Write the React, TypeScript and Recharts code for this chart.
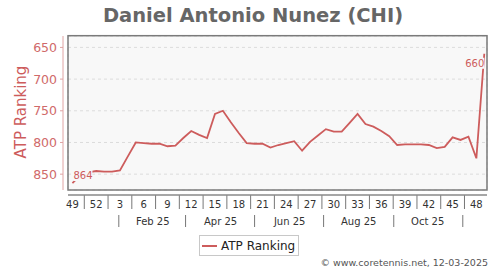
import React from 'react';
import { LineChart, Line, XAxis, YAxis, CartesianGrid } from 'recharts';

const FONT = '"DejaVu Sans", Verdana, sans-serif';

const title = 'Daniel Antonio Nunez (CHI)';
const seriesName = 'ATP Ranking';
const footer = '\u00A9 www.coretennis.net, 12-03-2025';

const dates = [
  '2024-12-06', '2024-12-13', '2024-12-20', '2024-12-27',
  '2025-01-03', '2025-01-10', '2025-01-17', '2025-01-24', '2025-01-31',
  '2025-02-07', '2025-02-14', '2025-02-21', '2025-02-28',
  '2025-03-07', '2025-03-14', '2025-03-21', '2025-03-28',
  '2025-04-04', '2025-04-11', '2025-04-18', '2025-04-25',
  '2025-05-02', '2025-05-09', '2025-05-16', '2025-05-23', '2025-05-30',
  '2025-06-06', '2025-06-13', '2025-06-20', '2025-06-27',
  '2025-07-04', '2025-07-11', '2025-07-18', '2025-07-25',
  '2025-08-01', '2025-08-08', '2025-08-15', '2025-08-22', '2025-08-29',
  '2025-09-05', '2025-09-12', '2025-09-19', '2025-09-26',
  '2025-10-03', '2025-10-10', '2025-10-17', '2025-10-24', '2025-10-31',
  '2025-11-07', '2025-11-14', '2025-11-21', '2025-11-28',
  '2025-12-05',
];

const rankings = [
  864, 852, 847, 845,
  846, 846, 844, 822, 800,
  801, 802, 802, 806,
  805, 793, 782, 788,
  793, 755, 750, 768,
  785, 801, 802, 802, 808,
  804, 801, 798, 813,
  799, 789, 779, 783,
  783, 769, 755, 771, 775,
  782, 790, 804, 803,
  803, 803, 804, 809, 807,
  792, 796, 791, 825,
  660,
];

const yTicks = [650, 700, 750, 800, 850];
const yDomain = [632, 875];

const weekLabels = ['49', '52', '3', '6', '9', '12', '15', '18', '21', '24', '27', '30', '33', '36', '39', '42', '45', '48'];
const weekLabelDates = [
  '2024-12-06', '2024-12-27', '2025-01-17', '2025-02-07', '2025-02-28', '2025-03-21',
  '2025-04-11', '2025-05-02', '2025-05-23', '2025-06-13', '2025-07-04', '2025-07-25',
  '2025-08-15', '2025-09-05', '2025-09-26', '2025-10-17', '2025-11-07', '2025-11-28',
];

const monthGridDates = [
  '2025-01-01', '2025-02-01', '2025-03-01', '2025-04-01', '2025-05-01', '2025-06-01',
  '2025-07-01', '2025-08-01', '2025-09-01', '2025-10-01', '2025-11-01', '2025-12-01',
];
const monthLabels = ['Feb 25', 'Apr 25', 'Jun 25', 'Aug 25', 'Oct 25'];
const monthLabelDates = ['2025-02-15', '2025-04-16', '2025-06-16', '2025-08-16', '2025-10-16'];
const monthSepDates = ['2025-01-16', '2025-03-16', '2025-05-16', '2025-07-16', '2025-09-16', '2025-11-16'];

const xDomainDates = ['2024-12-02T02:24:00Z', '2025-12-07T09:36:00Z'];

const toMs = (s: string) => Date.parse(s.length === 10 ? s + 'T00:00:00Z' : s);

const data = dates.map((d, i) => ({ t: toMs(d), rank: rankings[i] }));
const xDomain = xDomainDates.map(toMs);
const monthGridTs = monthGridDates.map(toMs);
const weekLabelTs = weekLabelDates.map(toMs);
const weekSepTs = weekLabelTs.slice(1).map((v, i) => (v + weekLabelTs[i]) / 2);
const monthLabelTs = monthLabelDates.map(toMs);
const monthSepTs = monthSepDates.map(toMs);

// layout (style only)
const W = 500;
const H = 270;
const PL = 68;
const PR = 487;
const PT = 36;
const PB = 190;

const LINE_COLOR = '#cd5c5c';
const AXIS_RED = '#d06a6a';

const YTick = (p: any) => (
  <g>
    <line x1={PL - 8} x2={PL - 5} y1={p.y} y2={p.y} stroke="#e0a4a4" strokeWidth={1} />
    <text x={PL - 11} y={p.y} textAnchor="end" dominantBaseline="central" fontSize={12.5} fill={AXIS_RED} fontFamily={FONT}>
      {p.payload.value}
    </text>
  </g>
);

const WeekTick = (p: any) => {
  const v = p.payload.value;
  const idx = weekLabelTs.indexOf(v);
  if (idx >= 0) {
    return (
      <text x={p.x} y={204} textAnchor="middle" dominantBaseline="central" fontSize={10} fill="#333" fontFamily={FONT}>
        {weekLabels[idx]}
      </text>
    );
  }
  return <line x1={p.x} x2={p.x} y1={195} y2={209} stroke="#777" strokeWidth={1} />;
};

const MonthTick = (p: any) => {
  const v = p.payload.value;
  const idx = monthLabelTs.indexOf(v);
  if (idx >= 0) {
    return (
      <text x={p.x} y={221} textAnchor="middle" dominantBaseline="central" fontSize={10} fill="#333" fontFamily={FONT}>
        {monthLabels[idx]}
      </text>
    );
  }
  return <line x1={p.x} x2={p.x} y1={215} y2={227} stroke="#777" strokeWidth={1} />;
};

const renderPointLabel = (p: any) => {
  const { x, y, value, index } = p;
  const last = rankings.length - 1;
  let i = index;
  if (i === undefined || i === null) {
    i = value === rankings[0] ? 0 : value === rankings[last] ? last : -1;
  }
  if (i === 0) {
    return (
      <g key="lbl-first">
        <rect x={x + 1} y={y - 13} width={19} height={11} fill="#f8f8f8" />
        <text x={x + 1} y={y - 4} textAnchor="start" fontSize={10} fill={LINE_COLOR} fontFamily={FONT}>
          {value}
        </text>
      </g>
    );
  }
  if (i === last) {
    return (
      <g key="lbl-last">
        <rect x={x - 19} y={y + 4} width={19} height={11} fill="#f8f8f8" />
        <text x={x} y={y + 13} textAnchor="end" fontSize={10} fill={LINE_COLOR} fontFamily={FONT}>
          {value}
        </text>
      </g>
    );
  }
  return <g />;
};

export default function App() {
  return (
    <div style={{ position: 'absolute', left: 0, top: 0, width: W, height: H, background: '#fff', fontFamily: FONT }}>
      <div style={{ position: 'absolute', left: 0, top: 0 }}>
        <LineChart width={W} height={H} data={data} margin={{ top: PT, right: W - PR, bottom: 40, left: 8 }}>
          <CartesianGrid stroke="#dcdcdc" strokeDasharray="3 3" fill="#f8f8f8" />
          <XAxis
            dataKey="t"
            type="number"
            domain={xDomain}
            allowDataOverflow
            ticks={monthGridTs}
            tick={false}
            axisLine={false}
            tickLine={false}
            height={5}
          />
          <XAxis
            xAxisId="weeks"
            dataKey="t"
            type="number"
            domain={xDomain}
            allowDataOverflow
            ticks={[...weekLabelTs, ...weekSepTs]}
            interval={0}
            tick={WeekTick}
            axisLine={false}
            tickLine={false}
            height={17}
          />
          <XAxis
            xAxisId="months"
            dataKey="t"
            type="number"
            domain={xDomain}
            allowDataOverflow
            ticks={[...monthLabelTs, ...monthSepTs]}
            interval={0}
            tick={MonthTick}
            axisLine={false}
            tickLine={false}
            height={18}
          />
          <YAxis
            reversed
            domain={yDomain}
            allowDataOverflow
            ticks={yTicks}
            interval={0}
            width={60}
            axisLine={false}
            tickLine={false}
            tick={YTick}
          />
          <Line
            type="linear"
            dataKey="rank"
            name={seriesName}
            stroke={LINE_COLOR}
            strokeWidth={1.8}
            dot={false}
            isAnimationActive={false}
            label={renderPointLabel}
          />
        </LineChart>
      </div>
      <svg width={W} height={H} style={{ position: 'absolute', left: 0, top: 0, pointerEvents: 'none' }}>
        <text x={253} y={15} textAnchor="middle" dominantBaseline="central" fontSize={19.5} fontWeight="bold" fill="#666" fontFamily={FONT}>
          {title}
        </text>
        <text transform="translate(21,112) rotate(-90)" textAnchor="middle" dominantBaseline="central" fontSize={15} fill={LINE_COLOR} fontFamily={FONT}>
          {seriesName}
        </text>
        <line x1={PL - 5} x2={PL - 5} y1={PT} y2={PB} stroke="#e0a4a4" strokeWidth={1} />
        <line x1={PL} x2={PR} y1={195} y2={195} stroke="#888" strokeWidth={1.3} />
        <rect x={PL} y={PT - 0.3} width={PR - PL} height={PB - PT + 0.3} fill="none" stroke="#7a7a7a" strokeWidth={1.5} />
        <text x={488} y={266} textAnchor="end" fontSize={9.5} fill="#555" fontFamily={FONT}>
          {footer}
        </text>
      </svg>
      <div
        style={{
          position: 'absolute',
          left: 199,
          top: 235,
          width: 100,
          height: 21,
          border: '1px solid #c8c8c8',
          boxSizing: 'border-box',
          background: '#fff',
        }}
      >
        <div style={{ position: 'absolute', left: 2, top: 9, width: 15, height: 2, background: LINE_COLOR }} />
        <div style={{ position: 'absolute', left: 21, top: 1, fontSize: 12, lineHeight: '18px', color: '#222', fontFamily: FONT, whiteSpace: 'nowrap' }}>
          {seriesName}
        </div>
      </div>
    </div>
  );
}
